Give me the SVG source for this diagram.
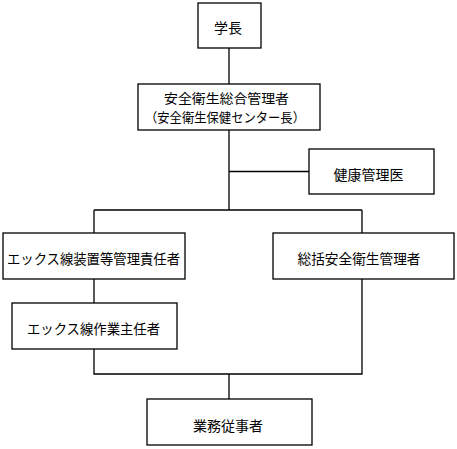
<svg xmlns="http://www.w3.org/2000/svg" width="457" height="449" viewBox="0 0 457 449">
<style>
.box{fill:#fff;stroke:#000;stroke-width:1.3}
.ln{fill:none;stroke:#000;stroke-width:1.3}
text{font-family:"Noto Sans CJK JP","Noto Sans CJK SC",sans-serif;font-size:14px;fill:#000;text-anchor:middle;dominant-baseline:central}
.two{font-size:13px}
</style>
<rect width="457" height="449" fill="#fff"/>
<g id="connectors">
<path class="ln" d="M229,48V210M229,171.5H309M94,210H362M94,210V233M362,210V233M94,279V303M94,349V374H362V279M229,374V399"/>
</g>
<g id="gakucho"><rect class="box" x="198" y="3" width="63" height="45"/><text x="228" y="27">学長</text></g>
<g id="sogo"><rect class="box" x="138" y="84" width="182" height="46"/><text class="two" x="226.5" y="97.5" textLength="125" lengthAdjust="spacingAndGlyphs">安全衛生総合管理者</text><text class="two" x="225" y="116.5" textLength="160" lengthAdjust="spacingAndGlyphs">（安全衛生保健センター長）</text></g>
<g id="kenko"><rect class="box" x="309" y="149" width="125" height="45"/><text x="368.5" y="174">健康管理医</text></g>
<g id="xray-kanri"><rect class="box" x="3" y="233" width="182" height="46"/><text x="93.5" y="258" textLength="173" lengthAdjust="spacingAndGlyphs">エックス線装置等管理責任者</text></g>
<g id="sokatsu"><rect class="box" x="273" y="233" width="181" height="46"/><text x="359" y="258" textLength="123" lengthAdjust="spacingAndGlyphs">総括安全衛生管理者</text></g>
<g id="xray-sagyo"><rect class="box" x="12" y="303" width="165" height="46"/><text x="93.5" y="328" textLength="133" lengthAdjust="spacingAndGlyphs">エックス線作業主任者</text></g>
<g id="gyomu"><rect class="box" x="147" y="399" width="165" height="46"/><text x="228" y="424.5">業務従事者</text></g>
</svg>
